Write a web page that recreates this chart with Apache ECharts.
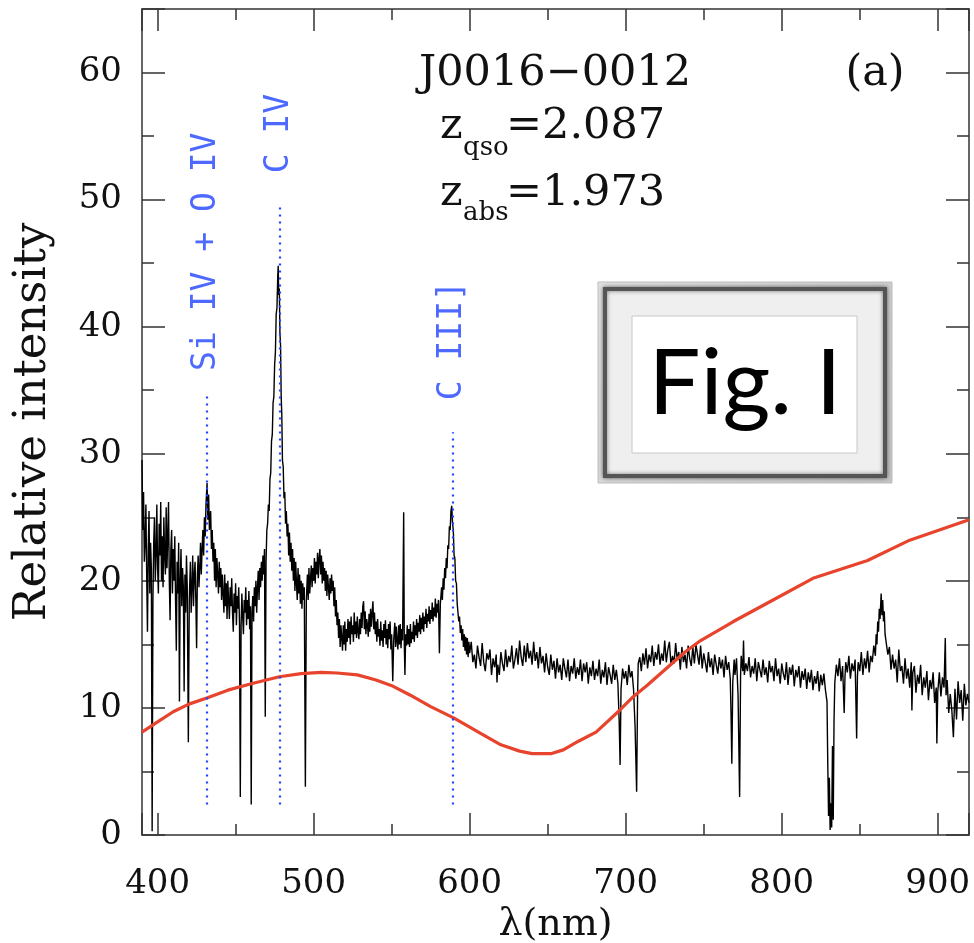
<!DOCTYPE html>
<html><head><meta charset="utf-8">
<script src="https://cdn.jsdelivr.net/npm/echarts@6/dist/echarts.min.js"></script>
<style>html,body{margin:0;padding:0;background:#fff}#c{width:974px;height:943px}</style>
</head><body><div id="c"></div>
<script>
// ---- axis ranges & ticks ----
const xRange = [390, 920];
const yRange = [0, 65];
const yInterval = 10;

// ---- observed spectrum (wavelength nm, relative intensity) ----
const specBlue = [[390,29.5],[390.5,24],[391,27],[391.5,21.5],[392,23],[392.5,26],[393,20.5],[393.5,16],[394,22.5],[394.5,25.5],[395,19],[395.5,23],[396,21],[396.5,0.3],[397,18.5],[397.5,23],[398,25],[398.5,20],[399,22],[399.5,26],[400,21],[400.5,19],[401,24.5],[401.5,22],[402,26.2],[402.5,20],[403,23.5],[403.5,19.5],[404,25],[404.5,22],[405,20.5],[405.5,25.8],[406,21],[406.5,23.5],[407,26.2],[407.5,20],[408,16.9],[408.5,22.5],[409,24],[409.5,19],[410,22.5],[410.5,20],[411,23.5],[411.5,18.5],[412,14.5],[412.5,21.5],[413,19],[413.5,23],[414,10.5],[414.5,20],[415,22.5],[415.5,18],[416,21],[416.5,19.5],[417,11.3],[417.5,20.5],[418,17.5],[418.5,22],[419,19.5],[419.7,7.3],[420.3,18.5],[421,21.5],[421.5,17.5],[422,19.5],[422.5,22],[423,18],[423.5,20.5],[424,21.5],[424.5,18.5],[425,14.7],[425.5,20.5],[426,22],[426.5,19.5],[427,21],[427.5,23],[428,20.5],[428.5,22.5],[429,24],[429.5,22],[430,25],[430.5,23.5],[431,26],[431.7,27.7],[432.2,24.8],[432.7,26.8],[433.2,24],[434,25.5],[434.5,22.5],[435,24],[435.5,21.5],[436,23],[436.5,20],[437,22.5],[437.5,19.5],[438,21.8],[438.5,20.5],[439,19],[439.5,21.5],[440,19.5],[440.5,21],[441,18.5],[441.5,20.5],[442,19],[442.5,17.5],[443,20.5],[443.5,18],[444,19.8],[444.5,17],[445,20],[445.5,18.5],[446,17],[446.5,19.5],[447,18],[447.5,20.2],[448,17.5],[448.5,16],[449,19],[449.5,17.5],[450,19.8],[450.5,16.5],[451,18.8],[451.5,17.8],[452,19.5],[452.5,16.5],[453,3],[453.5,16.5],[454,19],[454.5,17.2],[455,15.8],[455.5,18.5],[456,17.5],[456.5,19.5],[457,16.5],[457.5,18.5],[458,17],[458.5,19.2],[459,16.2],[459.5,18],[460,2.4],[460.5,17.5],[461,18.8],[461.5,16.8],[462,19.5],[462.5,18],[463,20],[463.5,17.5],[464,19.5],[464.5,20.8],[465,18.5],[465.5,21],[466,19.5],[466.5,21.5],[467,20],[467.5,22],[468,20.5],[468.5,22.5],[469,9.3],[469.5,21.5],[470,24]];

const specGreen = [[470.5,24.5],[471,26],[471.5,25.5],[472,28],[472.5,28.5],[473,31],[473.5,31.5],[474,34],[474.5,34.5],[475,37],[475.5,38],[476,41],[476.5,41.5],[477,44],[477.3,44.8],[477.6,42.5],[478,43],[478.4,39.5],[478.8,38.5],[479.2,34.5],[479.6,33],[480,29.5],[480.5,29],[481,26.5],[481.5,27],[482,24.5],[482.5,25.5],[483,23.5],[483.5,24.5],[484,22],[484.5,23.8],[485,21.5],[485.5,23],[486,20.8],[486.5,22.5],[487,20],[487.5,21.8],[488,19.2],[488.5,21.5],[489,19.8],[489.5,18.5],[490,21],[490.5,19],[491,20.5],[491.5,18.2],[492,20],[492.5,17.8],[493,19.8],[493.5,18.5],[494,19.5],[494.7,3.8],[495.3,18.5],[496,20.5],[496.5,18.5],[497,21],[497.5,19],[498,20.2],[498.5,21.2],[499,19.5],[499.5,21],[500,20],[500.5,21.8],[501,19.8],[501.5,21.5],[502,20.5],[502.5,22.2],[503,20.2],[503.5,21.8],[504,22.5],[504.5,20.5],[505,22],[505.5,19.8],[506,21.5],[506.5,20],[507,21],[507.5,19.2],[508,20.8],[508.5,18.8],[509,20.5],[509.5,19.5],[510,18.5],[510.5,20.2],[511,19],[511.5,20.5],[512,19.2],[512.5,20],[513,18],[513.5,19.5],[514,17.2],[514.5,18.5],[515,16.5],[515.5,17.5],[516,15.5],[516.5,17],[517,14.8],[517.5,16.5],[518,15.5],[518.5,14.5],[519,16.5],[519.5,15],[520,16.8],[520.5,14.5],[521,16.2],[521.5,15.2],[522,17],[522.5,15.5],[523,16.8],[523.5,15],[524,17.2],[524.5,15.8],[525,16.5],[525.5,15.2],[526,17.5],[526.5,15.8],[527,16.8],[527.5,15.5],[528,17.2],[528.5,16],[529,15.4],[529.5,17],[530,15.8],[530.5,17.5],[531,16.3],[531.5,18],[532,18.4],[532.5,16.2],[533,17.6],[533.5,15.8],[534,17],[534.5,16.5],[535,15.6],[535.5,17.4],[536,16],[536.5,17.8],[537,16.4],[537.5,17.5],[538,18.4],[538.5,16.2],[539,17.5],[539.5,15.8],[540,16.8],[540.5,15.2],[541,17],[541.5,15.6],[542,16.2],[542.5,14.9],[543,16.8],[543.5,15.3],[544,16.1],[544.5,14.8],[545,16.6],[545.5,15.5],[546,16.9],[546.5,15],[547,16.2],[547.5,14.7],[548,16.6],[548.5,15.4],[549,16.8],[549.5,14.6],[550,15.8],[550.7,12.1],[551.3,15.3],[552,16.7],[552.5,14.8],[553,16.4],[553.5,15.2],[554,14.6],[554.5,16.5],[555,15],[555.5,16.6],[556,14.7],[556.5,16.2],[557,15.3],[557.7,25.4],[558.1,15],[558.5,12.6],[559,15.8],[559.5,14.9],[560,16.5],[560.5,15],[561,16.2],[561.5,14.8],[562,16.6],[562.5,15.1],[563,16],[563.5,15.4],[564,16.8],[564.5,15.2],[565,16.5],[565.5,15.7],[566,17],[566.5,15.5],[567,16.7],[567.5,16],[568,17.3],[568.5,15.8],[569,17.1],[569.5,16.2],[570,17.5],[570.5,16],[571,17.2],[571.5,16.6],[572,17.8],[572.5,16.3],[573,17.4],[573.5,16.8],[574,18],[574.5,16.6],[575,17.7],[575.5,17],[576,18.3],[576.5,16.8],[577,17.9],[577.5,17.2],[578,18.6],[578.5,17.1],[579,18.2],[579.5,17.5],[580,18.5],[580.6,14.3],[581.2,18.2],[582,19.5],[582.5,18.5],[583,20.2],[583.5,19.3],[584,21],[584.5,20.2],[585,21.8],[585.5,21],[586,22.8],[586.5,22.5],[587,24.3],[587.5,24],[588,25.5],[588.5,25.9],[589,24.6],[589.5,24],[590,22],[590.5,21.8],[591,20],[591.5,19.8],[592,18.2],[592.5,18.2],[593,16.8],[593.5,17.2],[594,15.9],[594.5,16.5],[595,15.3],[595.5,16.2],[596,14.8],[596.5,15.8],[597,14.5],[597.5,15.6],[598,14.2],[598.5,15.5],[599,14],[599.5,15.2],[600,14.3]];

const specOrange = [[601,15.2],[602,13.6],[603,14.2],[604,13.1],[605,14.9],[606,14.0],[607,13.3],[608,15.1],[609,13.6],[610,12.9],[611,14.3],[612,13.8],[613,14.6],[614,12.6],[615,13.9],[616,13.2],[617,14.2],[617.5,12],[618,13.4],[619,12.6],[620,14.4],[621,13.5],[622,12.9],[623,14.6],[624,13.2],[625,14.1],[626,13.6],[627,14.9],[628,13.1],[629,13.8],[630,14.7],[631,13.4],[632,15.3],[633,14.0],[634,13.3],[635,14.9],[636,13.6],[637,15.1],[638,13.9],[639,14.5],[640,13.4],[641,15.2],[642,13.7],[643,14.4],[644,13.1],[645,14.8],[646,13.5],[647,14.1],[648,12.8],[649,14.3],[650,13.2],[651,12.6],[652,14.2],[653,13.0],[654,13.7],[655,12.3],[656,13.9],[657,12.8],[658,13.4],[659,12.2],[660,13.9],[661,13.1],[662,12.4],[663,13.8],[664,12.1],[665,13.3],[666,12.7],[667,13.9],[668,12.3],[669,13.2],[670,12.6],[671,13.8],[672,12.1],[673,13.5],[674,12.8],[675,13.6],[676,11.9],[677,13.2],[678,12.5],[679,13.7],[680,12.2],[681,13.1],[682,12.5],[683,13.8],[684,11.9],[685,13.0],[686,12.4],[687,13.6],[688,11.8],[689,13.2],[690,12.6],[691,11.9],[692,13.4],[693,12.2],[694,13.0],[695,11.9],[695.8,9],[696.4,5.5],[697,11.5],[698,13.1],[699,12.3],[700,12.9],[701,11.8],[702,13.4],[703,12.4],[704,12.9],[705,11.5],[706,8.5],[707,3.4],[707.6,11],[708,13.5],[709,14.0],[710,12.9],[711,14.3],[712,13.4],[713,14.7],[714,13.1],[715,14.2],[716,13.6],[717,14.9],[718,13.3],[719,14.4],[720,13.8]];

const specRed = [[721,15.0],[722,13.4],[723,14.3],[724,13.7],[725,15.3],[726,13.6],[727,14.6],[728,15.2],[729,13.4],[730,14.1],[731,13.5],[732,15.1],[733,13.8],[734,14.4],[735,13.0],[736,14.8],[737,13.6],[738,14.2],[739,13.1],[740,14.9],[741,13.9],[742,13.3],[743,14.8],[744,13.5],[745,15.0],[746,14.2],[747,13.4],[748,14.9],[749,13.1],[750,14.3],[751,13.6],[752,12.8],[753,14.4],[754,13.2],[755,13.9],[756,12.6],[757,14.2],[758,13.4],[759,12.7],[760,14.0],[761,13.1],[762,13.8],[763,12.4],[764,14.1],[765,13.0],[766,13.6],[767,12.3],[767.5,9.5],[768,5.6],[768.6,12],[769.5,13.8],[770,12.6],[771,13.9],[772,11],[773,3],[773.6,12.5],[774,14.1],[775,12.9],[775.5,15.3],[776,12.6],[777,13.5],[778,12.9],[779,14.0],[780,12.4],[781,13.3],[782,12.7],[783,13.9],[784,12.1],[785,13.6],[786,13.0],[787,12.4],[788,13.8],[789,12.6],[790,13.2],[791,12.0],[792,13.7],[793,12.8],[794,13.3],[795,12.1],[796,13.9],[797,12.5],[798,13.1],[799,11.9],[800,13.5],[801,12.7],[802,12.2],[803,13.6],[804,11.8],[805,13.2],[806,12.6],[807,13.4],[808,11.7],[809,13.0],[810,12.4],[811,13.3],[812,11.6],[813,12.9],[814,12.2],[815,13.1],[816,11.5],[817,12.8],[818,12.0],[819,13.0],[820,11.4],[821,12.5],[822,11.9],[823,12.9],[824,11.3],[825,12.6],[826,11.8],[827,12.7],[828,11.4],[829,10.5],[829.5,5.5],[830,1.5],[830.5,4.5],[831,0.4],[831.5,2.5],[832,0.6],[832.5,7],[833,1.2],[833.5,9],[834,12],[835,13.4],[836,12.5],[837,13.9],[838,12.1],[839,13.3],[840,9.6],[840.5,12.4],[841,13.6],[842,12.8],[843,14.1],[844,12.3],[845,13.5],[846,12.9],[847,13.8],[848,7.6],[848.5,12.5],[849,13.6],[850,12.9],[851,14.4],[852,12.6],[853,13.9],[854,13.1],[855,14.5],[856,12.8],[857,14.1],[858,13.6],[859,14.9],[860,14.1],[860.5,15.8],[861,15],[861.5,16.8],[862,16],[862.5,17.8],[863,17],[863.7,19],[864.2,17.3],[864.7,18.5],[865.2,16.8],[865.7,17.6],[866.2,15.8],[867,15.8],[868,14.2],[869,14.8],[870,13.0],[871,14.2],[872,13.1],[873,13.8],[874,12.0],[875,14.6],[876,12.9],[877,13.3],[878,11.9],[879,13.9],[880,12.3],[881,13.1],[882,11.6],[883,13.6],[883.4,9.8],[884,12.8],[885,13.3],[886,11.2],[887,12.6],[888,11.9],[889,13.4],[890,11.0],[891,12.4],[892,11.6],[893,12.9],[894,10.6],[895,12.2],[896,11.5],[897,12.8],[898,10.4],[899,11.6],[899.4,7.2],[900,11.3],[901,12.8],[902,10.9],[903,12.4],[904,11.6],[904.8,15.5],[905.3,11],[906,12.2],[907,9.6],[908,11.1],[909,9.8],[910,7.7],[911,11.5],[912,9.1],[913,12.1],[914,10.4],[915,11.4],[916,9],[917,11.9],[918,10.2],[919,11.1],[920,10.4]];

// ---- red reference curve ----
const redCurve = [[390,8.1],[400,8.9],[410,9.7],[420,10.3],[432,10.8],[445,11.4],[460,11.9],[478,12.45],[492,12.7],[505,12.8],[515,12.75],[528,12.6],[540,12.2],[551,11.7],[562,11.0],[575,10.1],[590,9.2],[607,8.0],[620,7.1],[632,6.6],[640,6.4],[652,6.4],[660,6.7],[670,7.4],[681,8.1],[696,9.8],[705,10.9],[714,11.8],[726,13.1],[738,14.4],[748,15.3],[769,16.8],[790,18.2],[820,20.2],[855,21.6],[882,23.2],[920,24.8]];

// ---- emission line markers ----
const lineNames = ['Si IV + O IV', 'C IV', 'C III]'];
const lineWaves = [431.5, 478, 589];
const lineTops = [34.8, 49.6, 31.7];
const lineBottom = 2.4;
const lineLabelY = [45.9, 55.2, 38.9];

// ---- annotation text ----
const objName = 'J0016\u22120012';
const panelTag = '(a)';
const zQso = '2.087';
const zAbs = '1.973';
const figText = 'Fig. I';

const spectrum = specBlue.concat(specGreen, specOrange, specRed);
const AX = '#333';
const BLUE = '#2244ff';
const SERIF = '"DejaVu Serif", serif';

function xAx(pos, showLabel) {
  return {
    type: 'value', position: pos, min: xRange[0], max: xRange[1], splitNumber: 5,
    axisLine: { show: true, onZero: false, lineStyle: { color: AX, width: 1.5 } },
    axisTick: { show: true, inside: true, length: 22, lineStyle: { color: AX, width: 1.5 } },
    minorTick: { show: true, splitNumber: 2, length: 11, lineStyle: { color: AX, width: 1.5 } },
    splitLine: { show: false },
    axisLabel: { show: showLabel, showMinLabel: false, showMaxLabel: false, margin: 32,
      fontFamily: SERIF, fontSize: 34, color: '#111' },
    name: showLabel ? '\u03bb(nm)' : '', nameLocation: 'middle', nameGap: 65,
    nameTextStyle: { fontFamily: SERIF, fontSize: 38, color: '#111' }
  };
}
function yAx(pos, showLabel) {
  return {
    type: 'value', position: pos, min: yRange[0], max: yRange[1], interval: yInterval,
    axisLine: { show: true, onZero: false, lineStyle: { color: AX, width: 1.5 } },
    axisTick: { show: true, inside: true, length: 23, lineStyle: { color: AX, width: 1.5 } },
    minorTick: { show: true, splitNumber: 2, length: 12, lineStyle: { color: AX, width: 1.5 } },
    splitLine: { show: false },
    axisLabel: { show: showLabel, showMaxLabel: false, margin: 20,
      fontFamily: SERIF, fontSize: 34, color: '#111' },
    name: showLabel ? 'Relative intensity' : '', nameLocation: 'middle', nameGap: 86, nameRotate: 90,
    nameTextStyle: { fontFamily: SERIF, fontSize: 45, color: '#111' }
  };
}

const chart = echarts.init(document.getElementById('c'), null, { renderer: 'canvas' });
const option = {
  animation: false,
  backgroundColor: '#fff',
  grid: { left: 142, right: 5, top: 9, bottom: 108, containLabel: false, outerBoundsMode: 'none' },
  xAxis: [xAx('bottom', true), xAx('top', false)],
  yAxis: [yAx('left', true), yAx('right', false)],
  series: [
    {
      type: 'line', data: spectrum, showSymbol: false, symbol: 'none', z: 3,
      lineStyle: { color: '#000', width: 1.4 }, clip: true,
      markLine: {
        silent: true, symbol: ['none', 'none'], animation: false,
        lineStyle: { color: BLUE, type: [2, 5], width: 2.2 }, label: { show: false },
        data: lineWaves.map((w, i) => [{ coord: [w, lineBottom] }, { coord: [w, lineTops[i]] }])
      }
    },
    {
      type: 'line', data: redCurve, showSymbol: false, symbol: 'none', z: 4,
      lineStyle: { color: '#e8432d', width: 3.2 }
    },
    {
      type: 'scatter', symbolSize: 0, z: 5, silent: true,
      data: lineWaves.map((w, i) => [w, lineLabelY[i], lineNames[i]]),
      label: {
        show: true, position: 'inside', rotate: 90, formatter: p => p.value[2],
        fontFamily: '"DejaVu Sans Mono", monospace', fontSize: 33, color: BLUE
      }
    }
  ],
  graphic: [
    { type: 'text', x: 555, y: 74, style: { text: objName, font: '43px "DejaVu Serif"', fill: '#111', align: 'center', verticalAlign: 'middle' } },
    { type: 'text', x: 875, y: 74, style: { text: panelTag, font: '43px "DejaVu Serif"', fill: '#111', align: 'center', verticalAlign: 'middle' } },
    { type: 'text', x: 440, y: 127, style: { text: 'z', font: '43px "DejaVu Serif"', fill: '#111', align: 'left', verticalAlign: 'middle' } },
    { type: 'text', x: 463, y: 148, style: { text: 'qso', font: '26px "DejaVu Serif"', fill: '#111', align: 'left', verticalAlign: 'middle' } },
    { type: 'text', x: 506, y: 127, style: { text: '=' + zQso, font: '43px "DejaVu Serif"', fill: '#111', align: 'left', verticalAlign: 'middle' } },
    { type: 'text', x: 440, y: 194, style: { text: 'z', font: '43px "DejaVu Serif"', fill: '#111', align: 'left', verticalAlign: 'middle' } },
    { type: 'text', x: 463, y: 213, style: { text: 'abs', font: '26px "DejaVu Serif"', fill: '#111', align: 'left', verticalAlign: 'middle' } },
    { type: 'text', x: 506, y: 194, style: { text: '=' + zAbs, font: '43px "DejaVu Serif"', fill: '#111', align: 'left', verticalAlign: 'middle' } },
    // picture-frame box
    { type: 'rect', shape: { x: 598, y: 282, width: 294, height: 201 }, z: 10,
      style: { fill: new echarts.graphic.LinearGradient(0, 0, 1, 1, [{ offset: 0, color: '#e2e2e2' }, { offset: 1, color: '#c4c4c4' }]), stroke: '#bdbdbd', lineWidth: 1 } },
    { type: 'rect', shape: { x: 605, y: 289, width: 280, height: 187 }, z: 11,
      style: { fill: '#efefef', stroke: '#555', lineWidth: 4, shadowBlur: 4, shadowColor: 'rgba(0,0,0,0.5)' } },
    { type: 'rect', shape: { x: 632, y: 316, width: 225, height: 137 }, z: 12,
      style: { fill: '#fff', stroke: '#c8c8c8', lineWidth: 1 } },
    { type: 'text', x: 745, y: 384, z: 13,
      style: { text: figText, font: '92px Lato', fill: '#000', align: 'center', verticalAlign: 'middle' } }
  ]
};
chart.setOption(option);
</script></body></html>
